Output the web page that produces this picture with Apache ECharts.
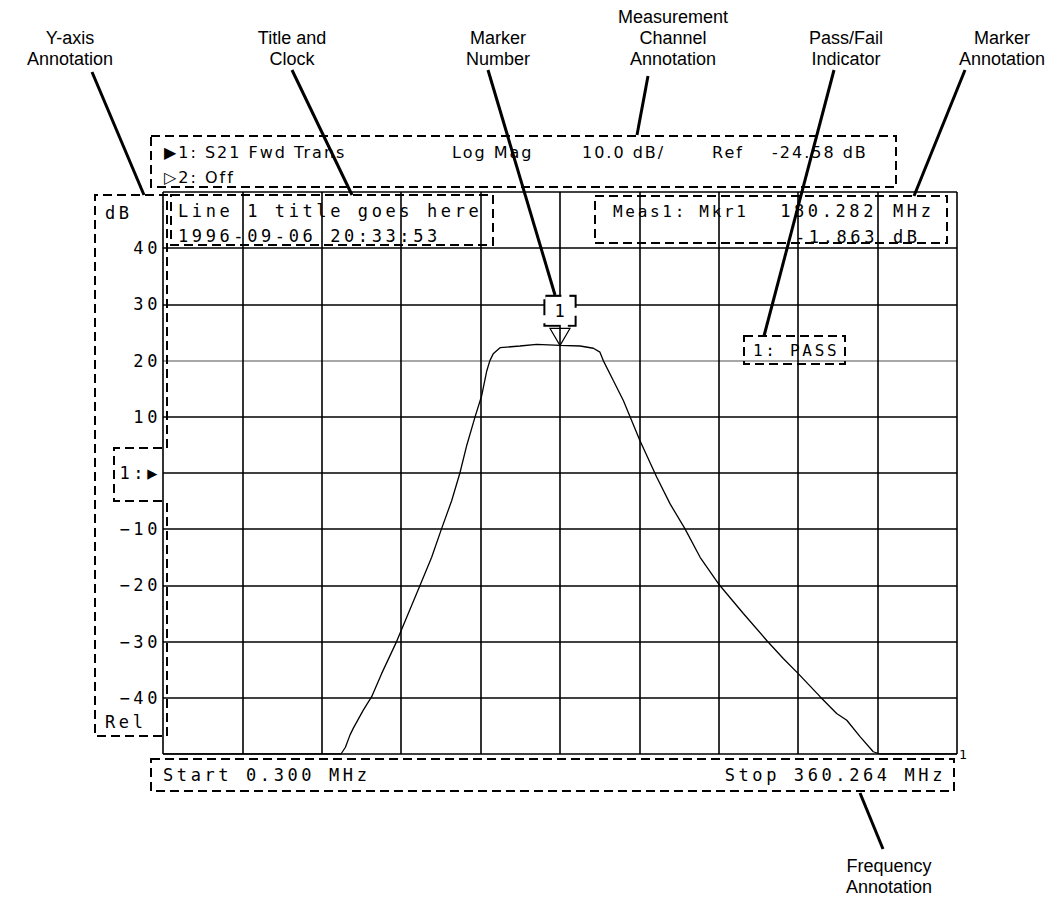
<!DOCTYPE html>
<html>
<head>
<meta charset="utf-8">
<script src="https://cdn.jsdelivr.net/npm/echarts@6/dist/echarts.min.js"></script>
<style>
html,body{margin:0;padding:0;background:#fff;}
#chart{width:1051px;height:902px;}
#chart text[style*="Mono"]{letter-spacing:3.6px;}
#chart text[style*="Mono"][style*="16px"]{letter-spacing:2.7px;}
#chart text[style*="DejaVu Sans"]:not([style*="Mono"]){letter-spacing:2px;}
</style>
</head>
<body>
<div id="chart"></div>
<script>
// ---- data ----
const startMHz = 0.3;
const stopMHz = 360.264;
const freqMHz = [0.3, 81.0, 83.0, 85.1, 86.6, 91.1, 94.9, 99.4, 106.2, 111.5, 116.8, 122.1, 126.6, 131.2, 134.9, 138.0, 141.7, 144.8, 147.1, 148.5, 150.0, 153.1, 162.1, 169.7, 180.282, 189.4, 195.4, 198.4, 199.9, 204.5, 209.0, 216.5, 224.1, 230.2, 236.9, 243.8, 252.1, 263.4, 274.0, 281.5, 288.3, 298.2, 305.7, 310.3, 316.3, 322.3, 325.4, 360.264];
const magDb   = [-50, -50, -48.8, -46.6, -45.4, -42.2, -39.8, -35.7, -30.0, -25.0, -20.0, -15.0, -9.9, -4.9, 0.0, 4.9, 9.9, 13.8, 18.2, 20.0, 21.2, 22.3, 22.6, 22.9, 22.7, 22.6, 22.2, 21.5, 20.0, 16.4, 12.9, 5.8, -0.7, -5.5, -9.9, -15.0, -19.7, -25.0, -29.8, -33.0, -35.7, -39.8, -42.8, -44.0, -46.9, -49.6, -50.0, -50];
const yTicks = [-50, -40, -30, -20, -10, 0, 10, 20, 30, 40, 50];
const yTickLabels = ['', '\u221240', '\u221230', '\u221220', '\u221210', '1:\u25B6', '10', '20', '30', '40', ''];
const markerFreqMHz = 180.282;
const markerDb = 22.7;
const markerNumber = '1';
const channelRow1 = ['\u25B61: S21 Fwd Trans', 'Log Mag', '10.0 dB/', 'Ref', '-24.58 dB'];
const channelRow2 = ['\u25B72: Off'];
const titleLines = ['Line 1 title goes here', '1996-09-06 20:33:53'];
const markerReadout = ['Meas1: Mkr1', '180.282', 'MHz', '-1.863', 'dB'];
const passFail = '1: PASS';
const freqText = ['Start 0.300 MHz', 'Stop 360.264 MHz'];
const calloutLabels = [
  'Y-axis\nAnnotation', 'Title and\nClock', 'Marker\nNumber',
  'Measurement\nChannel\nAnnotation', 'Pass/Fail\nIndicator', 'Marker\nAnnotation',
  'Frequency\nAnnotation'
];

// ---- rendering ----
const chart = echarts.init(document.getElementById('chart'), null, {renderer: 'svg'});

const MONO = 'DejaVu Sans Mono';
function txt(x, y, text, extra) {
  return {type: 'text', x: x, y: y, z: 60, silent: true,
    style: Object.assign({text: text, fill: '#000', fontFamily: MONO, fontSize: 17,
      align: 'left', verticalAlign: 'middle'}, extra || {})};
}
function dashRect(x, y, w, h) {
  return {type: 'rect', z: 55, silent: true, shape: {x: x, y: y, width: w, height: h},
    style: {fill: 'none', stroke: '#000', lineWidth: 2, lineDash: [9, 5]}};
}
function dashPoly(points) {
  return {type: 'polyline', z: 55, silent: true, shape: {points: points},
    style: {fill: 'none', stroke: '#000', lineWidth: 2, lineDash: [9, 5]}};
}
function leader(x1, y1, x2, y2) {
  return {type: 'line', z: 70, silent: true, shape: {x1: x1, y1: y1, x2: x2, y2: y2},
    style: {stroke: '#000', lineWidth: 3}};
}
function callout(x, y, text) {
  return {type: 'text', x: x, y: y, z: 60, silent: true,
    style: {text: text, fill: '#000', fontFamily: 'Liberation Sans', fontSize: 18, lineHeight: 21,
      align: 'center', verticalAlign: 'middle'}};
}
const CH = {fontFamily: 'DejaVu Sans', fontSize: 16};

const graphics = [
  // callout labels
  callout(70, 48.5, calloutLabels[0]),
  callout(292, 48.5, calloutLabels[1]),
  callout(498, 48.5, calloutLabels[2]),
  callout(673, 38, calloutLabels[3]),
  callout(846, 48.5, calloutLabels[4]),
  callout(1002, 48.5, calloutLabels[5]),
  callout(889, 876.5, calloutLabels[6]),
  // leader lines
  leader(92, 72, 144, 195),
  leader(292, 70, 352, 195),
  leader(488, 70, 555, 295),
  leader(648, 76, 637, 135),
  leader(834, 70, 764, 336),
  leader(965, 70, 914, 196),
  leader(860, 793, 883, 849),
  // dashed boxes
  dashRect(151, 136, 745, 51),
  dashPoly([[167, 448], [167, 195], [95, 195], [95, 736], [167, 736], [167, 501]]),
  dashPoly([[162, 448], [114, 448], [114, 501], [162, 501]]),
  dashRect(171, 195, 322, 50),
  dashRect(595, 196, 352, 47),
  dashRect(744, 336, 101, 28),
  dashRect(151, 759, 803, 32),
  // channel annotation
  txt(164, 152, channelRow1[0], CH),
  txt(452, 152, channelRow1[1], CH),
  txt(582, 152, channelRow1[2], CH),
  txt(712, 152, channelRow1[3], CH),
  txt(772, 152, channelRow1[4], CH),
  txt(164, 177, channelRow2[0], CH),
  // y axis annotation
  txt(105, 213, 'dB'),
  txt(105, 722, 'Rel'),
  // title and clock
  txt(178, 211, titleLines[0]),
  txt(178, 236, titleLines[1]),
  // marker readout
  txt(613, 211, markerReadout[0], {fontSize: 16}),
  txt(877, 211, markerReadout[1], {align: 'right'}),
  txt(893, 211, markerReadout[2]),
  txt(878, 237, markerReadout[3], {align: 'right'}),
  txt(893, 237, markerReadout[4]),
  // pass / fail
  txt(753, 350, passFail, {fontSize: 16}),
  // frequency annotation
  txt(163, 775, freqText[0]),
  txt(946, 775, freqText[1], {align: 'right'})
];

const ySplitColors = yTicks.map(function (v) { return v === 20 ? '#8a8a8a' : '#000'; });

const option = {
  animation: false,
  backgroundColor: '#fff',
  grid: {left: 163, top: 192, width: 794, height: 562, show: false},
  xAxis: [
    {type: 'value', min: 0, max: 10, interval: 1,
      axisLine: {show: false}, axisTick: {show: false}, axisLabel: {show: false},
      splitLine: {show: true, lineStyle: {color: '#000', width: 1.6}}},
    {type: 'value', min: startMHz, max: stopMHz, show: false, splitLine: {show: false}}
  ],
  yAxis: {
    type: 'value', min: yTicks[0], max: yTicks[yTicks.length - 1], interval: 10,
    axisLine: {show: false}, axisTick: {show: false},
    splitLine: {show: true, lineStyle: {color: ySplitColors, width: 1.6}},
    axisLabel: {
      margin: 2, color: '#000', fontFamily: MONO, fontSize: 17,
      formatter: function (v) { const i = yTicks.indexOf(v); return i >= 0 ? yTickLabels[i] : ''; }
    }
  },
  series: [{
    type: 'line', xAxisIndex: 1, yAxisIndex: 0,
    data: freqMHz.map(function (f, i) { return [f, magDb[i]]; }),
    symbol: 'none', showSymbol: false,
    lineStyle: {color: '#000', width: 1.3},
    z: 3,
    endLabel: {show: true, formatter: '1', color: '#000', fontFamily: MONO, fontSize: 13, distance: 2},
    markPoint: {
      symbol: 'path://M0,0L20,0L10,17Z', symbolSize: [20, 17], symbolOffset: [0, '-50%'],
      itemStyle: {color: 'rgba(0,0,0,0)', borderColor: '#000', borderWidth: 1.2},
      label: {show: true, position: 'top', distance: 3, formatter: markerNumber, color: '#000',
        fontFamily: MONO, fontSize: 17, lineHeight: 18, backgroundColor: '#fff',
        borderColor: '#000', borderWidth: 2, borderType: 'dashed', padding: [5, 8, 5, 11]},
      data: [{coord: [markerFreqMHz, markerDb]}]
    }
  }],
  graphic: {elements: graphics}
};
chart.setOption(option);
</script>
</body>
</html>
